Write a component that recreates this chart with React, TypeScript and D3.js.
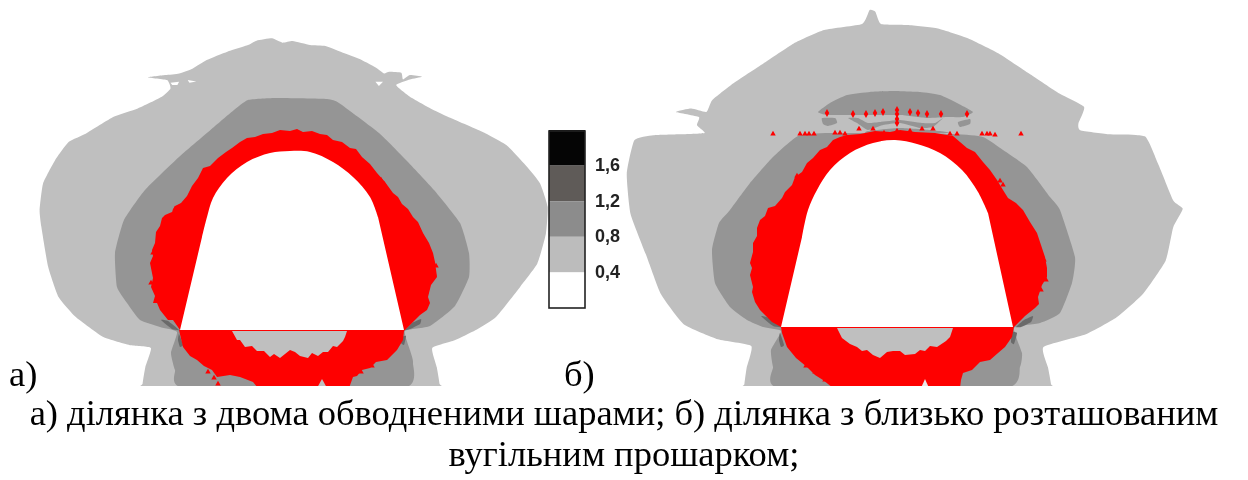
import React from "react";
import * as d3 from "d3";

type P = [number, number];

const GRAY = "#bfbfbf", MID = "#959595", DARK = "#6a6a6a", RED = "#fe0000";

// ---- panel a: outer level, in picture units
const aOuter: P[] = [[430,172],[480,165],[520,160],[560,145],[600,120],[660,95],[720,75],[745,62],[790,55],[820,68],[850,63],[900,75],[945,78],[1000,100],[1050,120],[1095,145],[1115,160],[1130,155],[1165,158],[1170,178],[1190,165],[1225,170],[1190,178],[1150,195],[1190,230],[1250,265],[1300,290],[1400,335],[1470,375],[1530,440],[1568,490],[1590,560],[1585,640],[1560,730],[1510,800],[1440,890],[1380,930],[1320,960],[1255,983],[1268,1040],[1276,1090],[1278,1130],[412,1130],[414,1090],[422,1040],[438,983],[380,975],[300,950],[220,890],[170,830],[140,740],[120,620],[115,570],[125,490],[160,420],[200,365],[250,340],[330,290],[400,265],[470,230],[495,205],[485,180]];
const aSpecks: P[][] = [[[495,188],[520,185],[515,195],[500,195]],[[545,180],[570,184],[550,188]],[[1090,185],[1112,185],[1100,198]]];

// ---- panel a: inner levels, in page units
const aMid: P[] = [[248,100],[275,98],[327,99],[339,103],[379,133],[406,160],[434,190],[460,223],[469,253],[469,277],[455,306],[430,326],[405,331],[410,350],[413,363],[403,388],[185,388],[175,370],[171,353],[177,332],[160,327],[140,320],[127,303],[117,287],[115,253],[124,220],[145,190],[179,157],[214,127],[234,110]];
const aRed: P[] = [[180,330],[173,320],[168,320],[160,310],[157,303],[153,303],[155,296],[151,287],[153,278],[150,263],[153,256],[152,250],[155,243],[156,232],[160,226],[162,218],[165,215],[172,212],[175,206],[181,203],[187,196],[192,186],[198,178],[203,168],[210,166],[218,158],[226,152],[232,148],[240,142],[247,138],[255,137],[263,134],[272,133],[280,130],[290,131],[297,129],[303,132],[312,131],[320,134],[327,135],[333,140],[342,142],[350,148],[356,149],[362,157],[370,164],[377,173],[385,182],[393,193],[398,197],[402,204],[408,209],[413,217],[418,222],[423,233],[429,243],[433,253],[435,262],[437,277],[431,285],[428,297],[430,303],[427,310],[420,315],[404,331],[403,340],[397,350],[387,360],[376,362],[370,368],[362,370],[357,376],[353,377],[349,388],[258,388],[253,382],[240,377],[230,375],[217,377],[212,370],[204,366],[197,360],[190,356],[183,347],[179,330]];
const aHole: P[] = [[232,331],[347,331],[345,337],[343,341],[337,347],[333,346],[328,352],[323,352],[318,356],[312,353],[308,358],[300,356],[295,352],[290,350],[285,354],[280,358],[274,354],[270,357],[264,351],[257,351],[252,346],[245,347],[240,340],[237,340]];
const aArch: P[] = [[202,237],[207,217],[213,198],[227,178],[247,162],[270,153],[290,151],[310,152],[333,162],[353,177],[370,197],[378,217]];
const aBase: P[] = [[404,330],[180,330]];
const aSpots: P[][] = [[[161,320],[168,321],[179,330],[172,329]],[[179,334],[183,345],[180,347],[178,340]],[[405,330],[412,323],[421,319],[420,324],[410,329]],[[402,337],[406,336],[404,345],[401,343]]];
const aPatches: P[][] = [[[220,386],[228,376],[240,378],[250,386]]];
const aStars: P[][] = [[[317,388],[322,379],[327,388]]];
const aDots: P[] = [[204,172],[203,176],[381,180],[384,184],[416,226],[420,232],[436,266],[434,274],[151,283],[153,253],[175,209],[208,372],[214,378],[218,384],[372,366],[361,372]];

// ---- panel b: outer level, in picture units
const bOuter: P[] = [[80,420],[130,405],[200,402],[265,398],[245,375],[250,350],[190,335],[230,325],[270,335],[285,300],[340,250],[420,190],[500,130],[580,90],[680,72],[700,30],[715,35],[730,72],[800,75],[880,85],[960,115],[1040,160],[1120,220],[1200,280],[1265,320],[1250,370],[1255,390],[1330,402],[1425,408],[1460,490],[1500,600],[1525,625],[1500,680],[1480,780],[1420,880],[1350,950],[1270,1000],[1158,1038],[1170,1100],[1178,1150],[1180,1190],[368,1190],[370,1150],[376,1100],[388,1035],[300,1015],[210,970],[150,880],[110,760],[70,640],[60,520]];

// ---- panel b: inner levels, in page units
const bMid: P[] = [[798,136],[830,133],[953,134],[983,137],[1003,150],[1027,167],[1050,197],[1060,210],[1075,257],[1072,283],[1060,313],[1040,323],[1014,328],[1022,353],[1020,367],[1005,388],[780,388],[773,367],[771,350],[781,331],[763,327],[747,320],[730,307],[715,283],[712,250],[719,223],[730,210],[750,183],[773,157]];
const bCap: P[] = [[818,112],[830,103],[847,95],[870,92],[893,91],[920,92],[940,95],[957,103],[973,112],[963,117],[947,117],[927,118],[900,115],[873,115],[857,115],[827,115]];
const bBlobs: P[][] = [[[822,118],[835,118],[837,123],[828,126],[823,124]],[[958,122],[970,119],[970,124],[960,127]],[[848,118],[857,123],[868,130],[883,125],[900,123],[920,128],[933,127],[943,118],[935,123],[922,123],[900,120],[880,122],[868,123],[858,118]],[[868,131],[900,128],[930,130],[950,133],[868,134]]];
const bRed: P[] = [[781,327],[772,322],[767,317],[760,310],[755,302],[752,292],[753,287],[750,275],[752,268],[750,263],[753,252],[753,243],[757,236],[757,228],[760,220],[765,216],[768,208],[775,206],[782,198],[785,192],[792,185],[795,177],[802,172],[807,163],[813,158],[820,150],[827,147],[833,140],[840,137],[847,135],[860,134],[875,131],[890,132],[900,130],[915,132],[935,133],[953,136],[960,142],[967,148],[975,152],[983,162],[990,170],[997,180],[1003,190],[1008,198],[1016,203],[1023,210],[1030,222],[1037,233],[1041,245],[1045,257],[1047,268],[1047,277],[1042,285],[1038,297],[1039,304],[1035,308],[1025,316],[1014,327],[1012,337],[1005,347],[998,353],[990,360],[980,362],[972,370],[963,373],[961,380],[960,388],[833,388],[823,380],[815,375],[807,367],[796,358],[787,347],[782,333]];
const bHole: P[] = [[837,328],[953,328],[950,337],[946,341],[937,347],[930,346],[925,351],[920,350],[915,354],[905,355],[900,351],[893,351],[887,352],[880,358],[873,355],[867,350],[862,351],[857,347],[850,344],[846,341],[842,338]];
const bArch: P[] = [[802,237],[808,210],[817,190],[830,170],[850,153],[873,143],[895,140],[917,144],[940,153],[962,170],[978,192],[988,213]];
const bBase: P[] = [[1013,327],[781,327]];
const bSpots: P[][] = [[[761,316],[770,318],[781,327],[773,326]],[[780,333],[784,345],[781,347],[779,340]],[[1016,327],[1024,320],[1033,316],[1031,322],[1021,327]],[[1012,332],[1017,333],[1014,344],[1011,342]]];
const bStars: P[][] = [[[921,388],[925,379],[929,388]]];
const bDots: P[] = [[773,134],[800,134],[805,134],[809,134],[814,134],[835,133],[840,133],[845,134],[859,129],[873,129],[884,133],[897,131],[910,131],[922,129],[933,129],[950,134],[957,134],[982,134],[987,134],[990,134],[995,135],[1021,134],[797,176],[799,179],[1000,181],[1003,185],[1022,218],[1030,228],[1044,260],[1041,290],[1046,280],[806,366],[815,372],[825,380]];
const bCapDots: P[] = [[827,113],[853,114],[866,114],[875,113],[883,112],[897,110],[897,114],[897,119],[897,123],[910,112],[918,113],[927,114],[941,114],[967,114]];

// ---- legend
const legendTicks = ["1,6", "1,2", "0,8", "0,4"];
const legendLevels = [2.0, 1.6, 1.2, 0.8, 0.4, 0];
const legendColors = ["#050505", "#5f5b58", "#8c8c8c", "#bcbcbc", "#ffffff"];

// ---- text
const captionLines = [
  "а) ділянка з двома обводненими шарами; б) ділянка з близько розташованим",
  "вугільним прошарком;",
];

const ax = d3.scaleLinear().domain([0, 540]).range([0, 186]);
const ay = d3.scaleLinear().domain([0, 1097]).range([20, 386]);
const bx = d3.scaleLinear().domain([0, 1000]).range([604, 983.5]);
const by = d3.scaleLinear().domain([0, 1155]).range([0, 386]);
const px = d3.scaleIdentity();
const ly = d3.scaleLinear().domain([2.0, 0]).range([130, 308]);

const smooth = d3.curveCardinalClosed.tension(0.55);
function path(pts: P[], x: any, y: any, curve: any = d3.curveLinearClosed) {
  return d3.line<P>().x(d => x(d[0])).y(d => y(d[1])).curve(curve)(pts)!;
}
const P_ = (p: P[], curve?: any) => path(p, px, px, curve);

// arch drawn as a curve, then straight walls down to the base corners
function tunnelPath(arch: P[], base: P[]) {
  const curve = d3.line<P>().x(d => d[0]).y(d => d[1]).curve(d3.curveCatmullRom.alpha(0.5))(arch)!;
  const tail = base.map(d => `L${d[0]},${d[1]}`).join("");
  return curve + tail + "Z";
}

export default function App() {
  const A = (p: P[], c?: any) => path(p, ax, ay, c);
  const B = (p: P[], c?: any) => path(p, bx, by, c);
  const tri = d3.symbol().type(d3.symbolTriangle).size(13)()!;
  const bigTri = d3.symbol().type(d3.symbolDiamond).size(18)()!;
  return (
    <svg width={1248} height={480} style={{ position: "absolute", left: 0, top: 0 }}>
      <defs>
        <clipPath id="panels"><rect x={0} y={0} width={1248} height={386} /></clipPath>
      </defs>
      <rect width={1248} height={480} fill="#fff" />
      <g clipPath="url(#panels)">
        <g style={{ filter: "blur(0.4px)" }}>
          <path d={A(aOuter, smooth)} fill={GRAY} />
          {aSpecks.map((p, i) => <path key={i} d={A(p)} fill="#fff" />)}
          <path d={P_(aMid, smooth)} fill={MID} />
          {aSpots.map((p, i) => <path key={i} d={P_(p, smooth)} fill={DARK} />)}
          <path d={P_(aRed)} fill={RED} />
          <path d={P_(aHole)} fill={GRAY} />
          {aPatches.map((p, i) => <path key={i} d={P_(p)} fill={MID} />)}
          {aStars.map((p, i) => <path key={i} d={P_(p)} fill={GRAY} />)}
          <path d={tunnelPath(aArch, aBase)} fill="#fff" />
          {aDots.map((d, i) => <path key={i} d={tri} fill={RED} transform={`translate(${d[0]},${d[1]})`} />)}

          <path d={B(bOuter, smooth)} fill={GRAY} />
          <path d={P_(bMid, smooth)} fill={MID} />
          <path d={P_(bCap, smooth)} fill={MID} />
          {bBlobs.map((p, i) => <path key={i} d={P_(p, smooth)} fill={MID} />)}
          {bSpots.map((p, i) => <path key={i} d={P_(p, smooth)} fill={DARK} />)}
          <path d={P_(bRed)} fill={RED} />
          <path d={P_(bHole)} fill={GRAY} />
          {bStars.map((p, i) => <path key={i} d={P_(p)} fill="#e8e8e8" />)}
          <path d={tunnelPath(bArch, bBase)} fill="#fff" />
          {bDots.map((d, i) => <path key={i} d={tri} fill={RED} transform={`translate(${d[0]},${d[1]})`} />)}
          {bCapDots.map((d, i) => <path key={i} d={bigTri} fill={RED} transform={`translate(${d[0]},${d[1]})`} />)}
        </g>
      </g>

      {legendColors.map((c, i) => (
        <rect key={i} x={549} width={36} y={ly(legendLevels[i])} height={ly(legendLevels[i + 1]) - ly(legendLevels[i])} fill={c} />
      ))}
      <rect x={549} y={131} width={36} height={177} fill="none" stroke="#222" strokeWidth={1.6} />
      {legendTicks.map((t, i) => (
        <text key={t} x={595} y={ly(1.6 - 0.4 * i) + 5.5} fontFamily="Liberation Sans" fontWeight="bold" fontSize={18} fill="#222">{t}</text>
      ))}

      <g fontFamily="Liberation Serif" fontSize={36.5} fill="#000">
        <text x={9} y={386}>a)</text>
        <text x={564} y={386}>б)</text>
        <text x={624} y={425} textAnchor="middle">{captionLines[0]}</text>
        <text x={624} y={466} textAnchor="middle">{captionLines[1]}</text>
      </g>
    </svg>
  );
}
